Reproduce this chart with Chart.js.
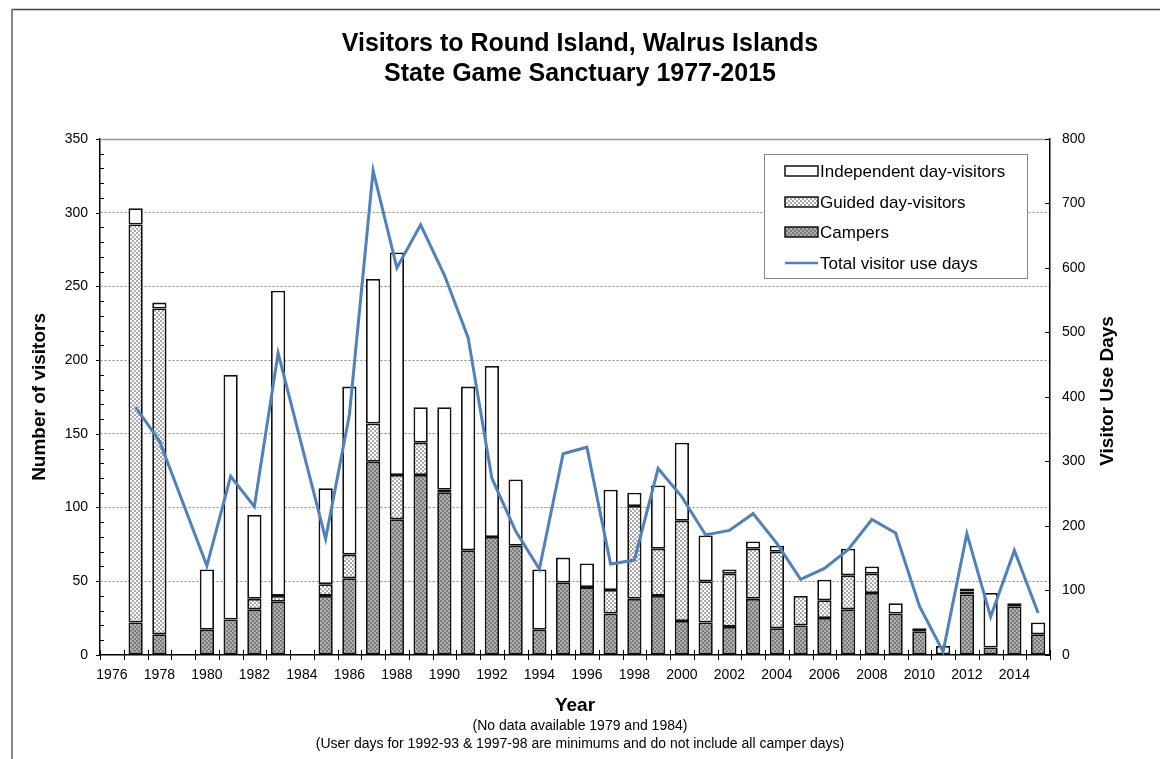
<!DOCTYPE html>
<html>
<head>
<meta charset="utf-8">
<script src="https://cdn.jsdelivr.net/npm/chart.js@4.4.0/dist/chart.umd.min.js"></script>
<style>
  html, body { margin: 0; padding: 0; background: #fff; }
  #wrap { width: 1160px; height: 759px; position: relative; }
</style>
</head>
<body>
<div id="wrap"><canvas id="c" width="1160" height="759"></canvas></div>
<script>
// ---- data ----
const years = ['1976','1977','1978','1979','1980','1981','1982','1983','1984','1985',
  '1986','1987','1988','1989','1990','1991','1992','1993','1994','1995',
  '1996','1997','1998','1999','2000','2001','2002','2003','2004','2005',
  '2006','2007','2008','2009','2010','2011','2012','2013','2014','2015'];

const campers = [null, 22, 14, null, 17, 24, 31, 36, null, 40,
  52, 131, 92, 122, 110, 71, 80, 74, 17, 49,
  46, 28, 38, 40, 23, 22, 19, 38, 18, 20,
  25, 31, 42, 28, 16, 0, 41, 5, 33, 14];

const guided = [null, 270, 221, null, 0, 0, 7, 4, null, 8,
  16, 26, 30, 22, 2, 0, 0, 0, 0, 0,
  0, 16, 63, 32, 68, 28, 36, 34, 52, 20,
  12, 23, 13, 0, 0, 0, 2, 0, 0, 0];

const independent = [null, 11, 4, null, 41, 166, 57, 207, null, 65,
  114, 98, 151, 24, 56, 111, 116, 45, 41, 17,
  16, 68, 9, 43, 53, 31, 3, 5, 4, 0,
  14, 18, 5, 7, 2, 6, 2, 37, 2, 8];

const useDays = [null, 384, 332, null, 138, 277, 230, 468, null, 180,
  372, 751, 600, 667, 589, 492, 274, 192, 133, 312,
  322, 141, 147, 289, 245, 186, 193, 219, 173, 117,
  134, 163, 210, 189, 76, 5, 188, 59, 162, 65];

const titleLines = ['Visitors to Round Island, Walrus Islands', 'State Game Sanctuary 1977-2015'];
const noteLines = ['(No data available 1979 and 1984)',
  '(User days for 1992-93 & 1997-98 are minimums and do not include all camper days)'];
const legendLabels = ['Independent day-visitors', 'Guided day-visitors', 'Campers', 'Total visitor use days'];

// ---- styling ----
const FONT = "'Liberation Sans', Arial, Helvetica, sans-serif";
const LINE_BLUE = '#4F81BD';

function makePattern(bg, fg) {
  const t = document.createElement('canvas');
  t.width = 4; t.height = 4;
  const g = t.getContext('2d');
  g.fillStyle = bg; g.fillRect(0, 0, 4, 4);
  g.fillStyle = fg; g.fillRect(0, 0, 2, 2); g.fillRect(2, 2, 2, 2);
  return document.getElementById('c').getContext('2d').createPattern(t, 'repeat');
}
const guidedFill = makePattern('#ffffff', '#ababab');
const campersFill = makePattern('#b0b0b0', '#7a7a7a');

Chart.defaults.color = '#000';
Chart.defaults.font.family = FONT;

const decor = {
  id: 'decor',
  afterDraw(chart) {
    const ctx = chart.ctx;
    const ca = chart.chartArea;
    const y = chart.scales.y, y2 = chart.scales.y2;
    ctx.save();
    // outer frame (top and left)
    ctx.strokeStyle = '#444'; ctx.lineWidth = 1.5;
    ctx.beginPath(); ctx.moveTo(11, 9.5); ctx.lineTo(1160, 9.5); ctx.stroke();
    ctx.strokeStyle = '#888'; ctx.lineWidth = 2;
    ctx.beginPath(); ctx.moveTo(12, 9); ctx.lineTo(12, 759); ctx.stroke();
    // top border of plot area
    ctx.strokeStyle = '#999'; ctx.lineWidth = 1.5;
    ctx.beginPath(); ctx.moveTo(ca.left, ca.top + 0.5); ctx.lineTo(ca.right, ca.top + 0.5); ctx.stroke();
    // left axis ticks
    ctx.strokeStyle = '#000'; ctx.lineWidth = 1;
    for (let v = 0; v <= 350; v += 10) {
      const py = Math.round(y.getPixelForValue(v)) + 0.5;
      ctx.beginPath();
      if (v % 50 === 0) { ctx.moveTo(ca.left - 4, py); ctx.lineTo(ca.left, py); }
      else { ctx.moveTo(ca.left, py); ctx.lineTo(ca.left + 4, py); }
      ctx.stroke();
    }
    // right axis ticks
    for (let v = 0; v <= 800; v += 100) {
      const py = Math.round(y2.getPixelForValue(v)) + 0.5;
      ctx.beginPath(); ctx.moveTo(ca.right - 5, py); ctx.lineTo(ca.right, py); ctx.stroke();
    }
    // x ticks at category boundaries
    const n = years.length;
    const w = (ca.right - ca.left) / n;
    for (let i = 0; i <= n; i++) {
      const px = Math.round(ca.left + i * w) + 0.5;
      ctx.beginPath(); ctx.moveTo(px, ca.bottom - 5); ctx.lineTo(px, ca.bottom + 5); ctx.stroke();
    }
    // right axis title
    ctx.fillStyle = '#000';
    ctx.font = 'bold 19px ' + FONT;
    ctx.textAlign = 'center'; ctx.textBaseline = 'middle';
    ctx.translate(1108, (ca.top + ca.bottom) / 2 - 6);
    ctx.rotate(-Math.PI / 2);
    ctx.fillText('Visitor Use Days', 0, 0);
    ctx.restore();

    // legend
    ctx.save();
    const bx = 764, by = 154, bw = 263, bh = 124;
    ctx.fillStyle = '#fff'; ctx.fillRect(bx, by, bw, bh);
    ctx.strokeStyle = '#888'; ctx.lineWidth = 1;
    ctx.strokeRect(bx + 0.5, by + 0.5, bw, bh);
    const rows = [171, 202, 232, 263];
    const fills = ['#fff', guidedFill, campersFill];
    ctx.font = '17px ' + FONT; ctx.textBaseline = 'middle'; ctx.textAlign = 'left';
    for (let i = 0; i < 4; i++) {
      const ry = rows[i];
      if (i < 3) {
        ctx.fillStyle = fills[i];
        ctx.fillRect(785, ry - 5, 33, 10);
        ctx.strokeStyle = '#111'; ctx.lineWidth = 1.5;
        ctx.strokeRect(785, ry - 5, 33, 10);
      } else {
        ctx.strokeStyle = LINE_BLUE; ctx.lineWidth = 2.5;
        ctx.beginPath(); ctx.moveTo(785, ry); ctx.lineTo(818, ry); ctx.stroke();
      }
      ctx.fillStyle = '#000';
      ctx.fillText(legendLabels[i], 820, ry + 1);
    }
    ctx.restore();
  }
};

const barCommon = { borderColor: '#111', borderWidth: 1.8, borderSkipped: false,
  stack: 's', yAxisID: 'y', order: 1, barPercentage: 0.6, categoryPercentage: 1 };

new Chart(document.getElementById('c'), {
  type: 'bar',
  data: {
    labels: years,
    datasets: [
      { type: 'line', label: legendLabels[3], data: useDays, yAxisID: 'y2',
        borderColor: LINE_BLUE, borderWidth: 3, pointRadius: 0, tension: 0,
        spanGaps: true, fill: false, order: 0 },
      Object.assign({ label: legendLabels[2], data: campers, backgroundColor: campersFill }, barCommon),
      Object.assign({ label: legendLabels[1], data: guided, backgroundColor: guidedFill }, barCommon),
      Object.assign({ label: legendLabels[0], data: independent, backgroundColor: '#fff' }, barCommon)
    ]
  },
  options: {
    responsive: false,
    animation: false,
    layout: { padding: { top: 0, left: 20, right: 20, bottom: 6 } },
    plugins: {
      legend: { display: false },
      tooltip: { enabled: false },
      title: { display: true, text: titleLines, color: '#000',
        font: { size: 25, weight: 'bold', lineHeight: 1.2 },
        padding: { top: 29, bottom: 50 } },
      subtitle: { display: true, position: 'bottom', text: noteLines, color: '#000',
        font: { size: 14, weight: 'normal', lineHeight: 1.29 },
        padding: { top: 0, bottom: 0 } }
    },
    scales: {
      x: {
        stacked: true,
        offset: true,
        grid: { display: false, drawTicks: false },
        border: { display: true, color: '#000', width: 1.5 },
        ticks: { autoSkip: false, maxRotation: 0, minRotation: 0, padding: 12,
          font: { size: 14 },
          callback: (v, i) => (i % 2 === 0 ? years[i] : '') },
        title: { display: true, text: 'Year', font: { size: 19, weight: 'bold' },
          padding: { top: 0, bottom: 0 } },
        afterFit: (s) => { s.height = 62; }
      },
      y: {
        position: 'left', stacked: true, min: 0, max: 350,
        ticks: { stepSize: 50, padding: 12, font: { size: 14 } },
        grid: { color: (c) => (c.tick && (c.tick.value === 0 || c.tick.value === 350)) ? 'rgba(0,0,0,0)' : '#8a8a8a',
          lineWidth: 1, drawTicks: false },
        border: { display: true, color: '#000', width: 1.5, dash: [2, 2] },
        title: { display: true, text: 'Number of visitors', font: { size: 19, weight: 'bold' },
          padding: { top: 8, bottom: 0 } },
        afterFit: (s) => { s.width = 80; }
      },
      y2: {
        position: 'right', min: 0, max: 800,
        ticks: { stepSize: 100, padding: 12, font: { size: 14 } },
        grid: { drawOnChartArea: false, drawTicks: false },
        border: { display: true, color: '#000', width: 1.5 },
        afterFit: (s) => { s.width = 90; }
      }
    }
  },
  plugins: [decor]
});
</script>
</body>
</html>
